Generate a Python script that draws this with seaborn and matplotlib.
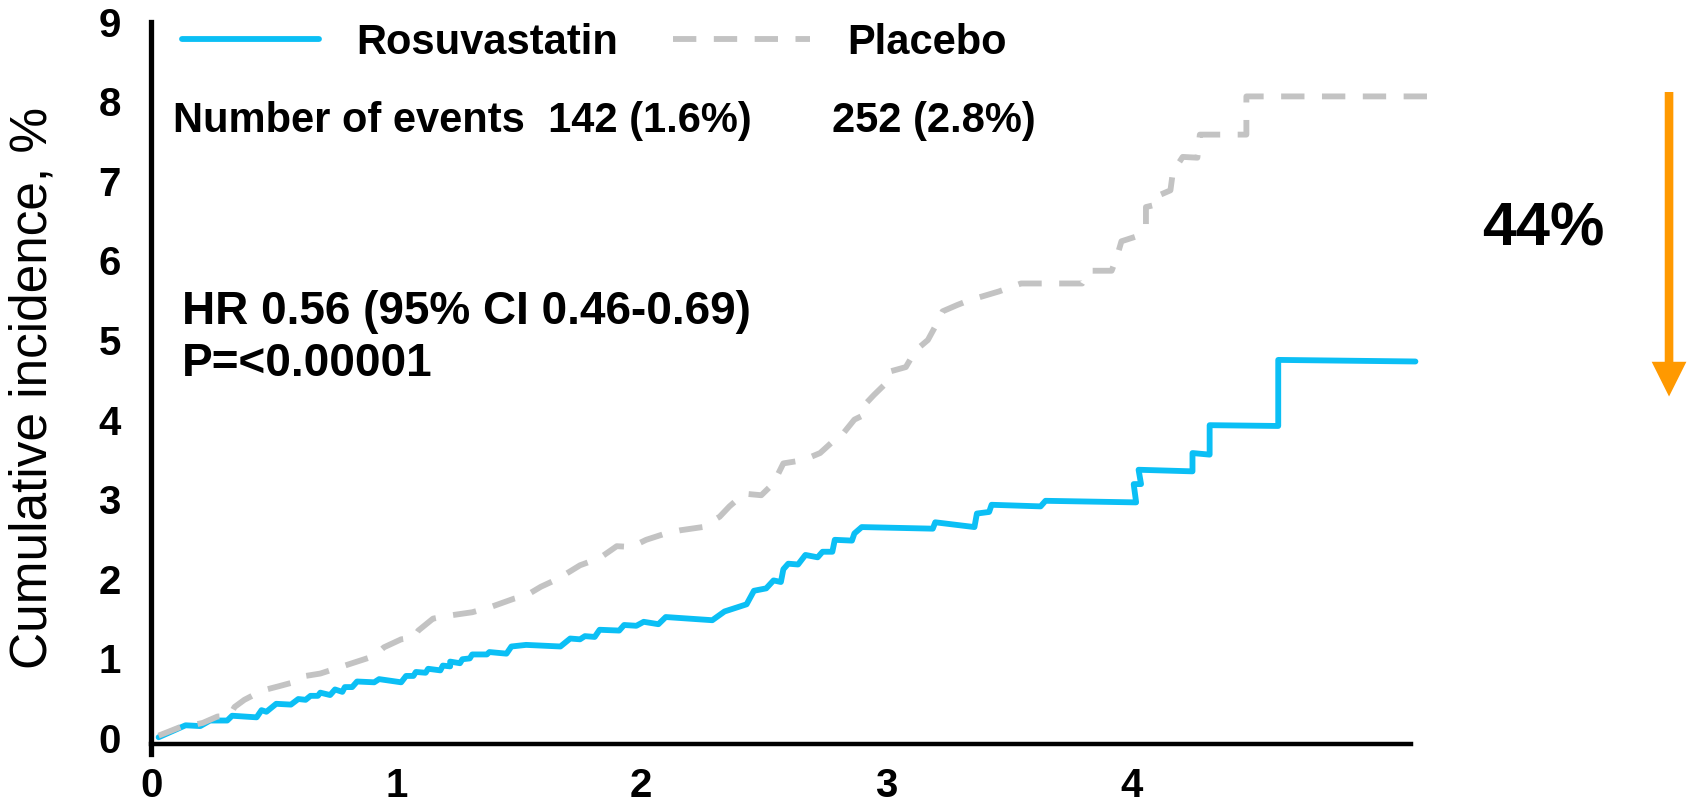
import pandas as pd
import matplotlib.pyplot as plt
import seaborn as sns

# years of follow-up / cumulative incidence (%)
rosu_time = [0.03, 0.14, 0.20, 0.24, 0.31, 0.33, 0.43, 0.45, 0.47, 0.51, 0.57, 0.60, 0.63, 0.65,
             0.68, 0.69, 0.73, 0.75, 0.78, 0.79, 0.82, 0.84, 0.91, 0.93, 1.02, 1.04, 1.07, 1.08,
             1.12, 1.13, 1.18, 1.19, 1.22, 1.22, 1.26, 1.27, 1.30, 1.31, 1.37, 1.38, 1.45, 1.47,
             1.53, 1.67, 1.71, 1.75, 1.77, 1.81, 1.83, 1.91, 1.93, 1.98, 2.01, 2.07, 2.10, 2.29,
             2.34, 2.43, 2.46, 2.51, 2.54, 2.57, 2.58, 2.60, 2.64, 2.67, 2.72, 2.74, 2.78, 2.79,
             2.86, 2.87, 2.90, 3.19, 3.20, 3.36, 3.37, 3.42, 3.43, 3.63, 3.65, 4.02, 4.01, 4.04,
             4.03, 4.25, 4.25, 4.32, 4.32, 4.60, 4.60, 5.16]
rosu_ci = [0.01, 0.16, 0.15, 0.22, 0.22, 0.28, 0.26, 0.35, 0.33, 0.43, 0.42, 0.49, 0.48, 0.53,
           0.53, 0.57, 0.54, 0.61, 0.58, 0.64, 0.64, 0.71, 0.70, 0.74, 0.70, 0.78, 0.78, 0.83,
           0.82, 0.87, 0.85, 0.91, 0.90, 0.96, 0.94, 0.99, 1.00, 1.05, 1.05, 1.08, 1.06, 1.15,
           1.17, 1.15, 1.25, 1.24, 1.28, 1.27, 1.36, 1.35, 1.42, 1.41, 1.46, 1.43, 1.52, 1.48,
           1.59, 1.68, 1.85, 1.88, 1.98, 1.96, 2.12, 2.19, 2.18, 2.30, 2.27, 2.34, 2.34, 2.49,
           2.48, 2.57, 2.65, 2.63, 2.71, 2.65, 2.82, 2.84, 2.93, 2.91, 2.98, 2.96, 3.19, 3.19,
           3.37, 3.35, 3.58, 3.56, 3.93, 3.92, 4.75, 4.73]

plac_time = [0.03, 0.12, 0.18, 0.21, 0.27, 0.32, 0.34, 0.38, 0.43, 0.47, 0.52, 0.58, 0.63, 0.69,
             0.76, 0.82, 0.91, 0.95, 1.02, 1.07, 1.09, 1.15, 1.22, 1.31, 1.38, 1.48, 1.53, 1.59,
             1.66, 1.75, 1.83, 1.90, 1.96, 2.02, 2.10, 2.16, 2.25, 2.32, 2.36, 2.42, 2.49, 2.54,
             2.58, 2.66, 2.73, 2.78, 2.82, 2.87, 2.91, 2.91, 2.95, 2.99, 3.01, 3.08, 3.12, 3.17,
             3.20, 3.23, 3.29, 3.34, 3.46, 3.55, 3.80, 3.83, 3.92, 3.94, 3.96, 4.02, 4.06, 4.06,
             4.10, 4.10, 4.16, 4.17, 4.21, 4.27, 4.28, 4.47, 4.47, 5.25]
plac_ci = [0.03, 0.14, 0.17, 0.19, 0.27, 0.28, 0.39, 0.48, 0.56, 0.61, 0.65, 0.70, 0.78, 0.81,
           0.88, 0.94, 1.03, 1.14, 1.24, 1.26, 1.35, 1.50, 1.54, 1.58, 1.64, 1.75, 1.79, 1.90,
           2.00, 2.17, 2.26, 2.41, 2.40, 2.49, 2.57, 2.61, 2.65, 2.78, 2.91, 3.07, 3.05, 3.20,
           3.45, 3.49, 3.58, 3.72, 3.81, 4.00, 4.06, 4.18, 4.31, 4.43, 4.60, 4.66, 4.87, 5.00,
           5.17, 5.36, 5.44, 5.50, 5.61, 5.71, 5.71, 5.87, 5.87, 6.03, 6.24, 6.30, 6.44, 6.67,
           6.70, 6.80, 6.88, 7.11, 7.30, 7.29, 7.58, 7.58, 8.06, 8.06]

groups = ['Rosuvastatin', 'Placebo']
events = ['142 (1.6%)', '252 (2.8%)']
x_ticks = [0, 1, 2, 3, 4]
y_ticks = [0, 1, 2, 3, 4, 5, 6, 7, 8, 9]

df = pd.concat([
    pd.DataFrame({'time': rosu_time, 'ci': rosu_ci, 'group': groups[0]}),
    pd.DataFrame({'time': plac_time, 'ci': plac_ci, 'group': groups[1]}),
], ignore_index=True)

sns.set_style('white')
plt.rcParams['font.family'] = ['Liberation Sans', 'DejaVu Sans']
plt.rcParams['text.color'] = 'black'
plt.rcParams['axes.labelcolor'] = 'black'
plt.rcParams['xtick.color'] = 'black'
plt.rcParams['ytick.color'] = 'black'
plt.rcParams['axes.edgecolor'] = 'black'

fig = plt.figure(figsize=(16.94, 8.07), dpi=100)
ax = fig.add_axes([0.0893, 0.0608, 0.7665, 0.9174])

sns.lineplot(data=df, x='time', y='ci', hue='group', style='group', hue_order=groups,
             style_order=groups, palette={'Rosuvastatin': '#0BBFF5', 'Placebo': '#C3C3C3'},
             dashes={'Rosuvastatin': '', 'Placebo': (4.0, 3.0)}, sort=False, estimator=None,
             linewidth=4.2, ax=ax)
for ln in ax.lines:
    ln.set_dash_capstyle('butt')

# spines first: moving a spine resets the tick labels
for s in ['top', 'right']:
    ax.spines[s].set_visible(False)
ax.spines['left'].set_linewidth(3.8)
ax.spines['left'].set_bounds(-0.2, 9)
ax.spines['bottom'].set_linewidth(3.2)
ax.spines['bottom'].set_position(('data', -0.07))
ax.spines['bottom'].set_bounds(0, 5.14)

ax.set_xlim(0, 5.3)
ax.set_ylim(-0.25, 9.05)
ax.set_xticks(x_ticks)
ax.set_yticks(y_ticks)
ax.set_xticklabels([str(t) for t in x_ticks], fontsize=29, fontweight='bold')
ax.set_yticklabels([str(t) for t in y_ticks], fontsize=29, fontweight='bold')
ax.tick_params(axis='y', direction='out', length=14, width=2.6, pad=8, color='black')
ax.tick_params(axis='x', direction='inout', length=13, width=2.6, pad=10, color='black')
ax.set_xlabel('')
ax.set_ylabel('Cumulative incidence, %', fontsize=37)
ax.yaxis.set_label_coords(-0.072, 0.5)

handles, labels = ax.get_legend_handles_labels()
ax.legend(handles, labels, ncol=2, loc='center left', bbox_to_anchor=(0.0233, 0.9657),
          frameon=False, borderpad=0, borderaxespad=0, handlelength=3.3, handletextpad=0.9,
          columnspacing=1.3, prop={'weight': 'bold', 'size': 30})

ax.text(0.0167, 0.8457, 'Number of events  ' + events[0], transform=ax.transAxes,
        fontsize=30, fontweight='bold', va='baseline')
ax.text(0.5241, 0.8457, events[1], transform=ax.transAxes,
        fontsize=30, fontweight='bold', va='baseline')
ax.text(0.0233, 0.5861, 'HR 0.56 (95% CI 0.46-0.69)', transform=ax.transAxes,
        fontsize=33, fontweight='bold', va='baseline')
ax.text(0.0233, 0.5159, 'P=<0.00001', transform=ax.transAxes,
        fontsize=33, fontweight='bold', va='baseline')
ax.text(1.0247, 0.6915, '44%', transform=ax.transAxes, fontsize=44,
        fontweight='bold', va='baseline', clip_on=False)

ax.annotate('', xy=(1.1689, 0.4882), xytext=(1.1689, 0.8995), xycoords='axes fraction',
            textcoords='axes fraction', annotation_clip=False,
            arrowprops=dict(width=6.2, headwidth=25, headlength=25, shrink=0,
                            color='#FF9900', linewidth=0))

fig.savefig('out.png', dpi=100)
